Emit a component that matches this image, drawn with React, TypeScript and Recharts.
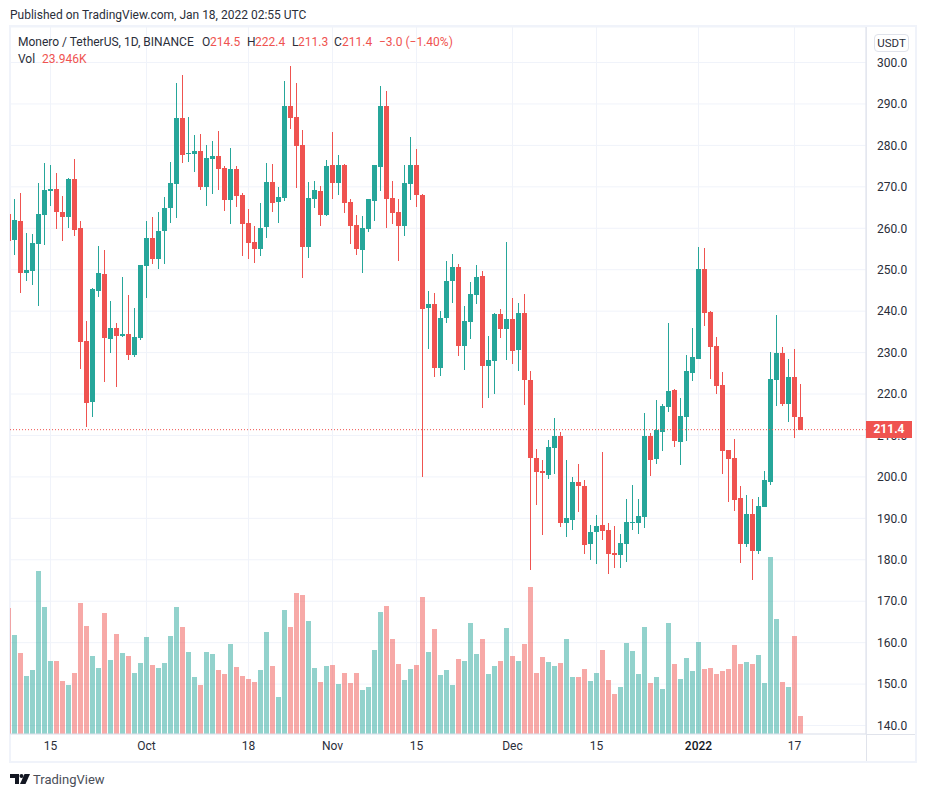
import React from "react";
import { ComposedChart, Bar, XAxis, YAxis, CartesianGrid, ReferenceLine } from "recharts";

const opens = [263.4,
  257.2,261.7,249.2,249.7,256.2,263.2,269.0,269.5,263.9,262.7,
  271.9,260.1,232.8,218.1,244.8,249.0,233.3,235.9,234.0,234.5,
  229.4,233.5,250.9,257.6,252.6,259.3,264.9,270.7,286.6,277.9,
  277.9,278.6,269.9,276.7,277.4,274.5,266.8,274.3,268.0,261.3,
  256.7,255.0,260.3,271.2,266.3,267.3,289.5,286.8,280.1,255.5,
  267.1,269.0,263.2,275.3,270.9,275.3,266.3,260.8,254.7,259.8,
  266.6,274.8,289.5,267.3,263.9,260.5,270.7,275.3,268.0,240.7,
  241.7,226.3,238.3,247.3,250.6,231.6,237.4,243.9,248.5,226.7,
  228.0,239.3,235.7,238.1,230.6,239.5,223.4,204.6,201.4,200.5,
  207.0,209.9,188.9,189.6,198.8,197.8,183.8,186.7,188.4,187.2,
  181.6,181.2,183.8,188.9,188.9,190.3,209.9,204.3,210.8,216.9,
  221.0,208.4,214.5,225.1,228.5,250.2,239.8,231.6,222.2,206.5,
  204.6,194.9,183.8,191.1,182.1,192.7,198.8,223.4,229.9,217.6,
  224.1,214.5];
const closes = [256.9,
  262.0,249.2,249.9,256.4,263.4,269.2,269.5,263.9,262.7,271.9,
  259.6,232.5,217.8,245.3,249.2,233.5,235.9,234.0,234.5,229.4,
  233.7,251.1,257.6,252.6,259.3,264.9,270.9,286.6,277.7,278.2,
  278.6,269.9,276.9,277.4,274.3,266.8,274.3,267.8,261.0,256.4,
  255.0,260.1,271.2,266.1,267.5,289.5,286.6,279.8,255.5,267.3,
  269.2,263.2,275.0,270.9,275.3,266.1,260.5,255.0,260.1,267.1,
  275.3,289.5,267.1,263.7,260.5,270.9,275.3,268.0,240.5,241.7,
  226.3,238.3,247.3,250.6,231.6,237.6,244.1,248.2,226.7,228.2,
  239.3,235.7,238.1,230.4,239.5,223.4,204.6,201.2,201.0,207.2,
  209.9,188.9,190.1,198.8,197.8,183.6,186.7,188.2,187.0,181.4,
  181.2,184.1,189.1,189.1,190.6,209.9,204.1,211.3,217.1,220.7,
  208.7,214.7,225.6,228.9,250.2,239.6,231.4,221.9,206.3,204.3,
  194.4,183.8,191.1,182.1,193.0,199.3,223.6,229.9,217.6,224.1,
  214.5,211.4];
const highs = [265.0,
  267.0,268.4,258.8,258.6,270.9,275.7,275.3,273.3,267.8,272.1,
  276.7,261.7,237.6,245.6,255.7,254.7,242.4,237.1,248.2,243.9,
  240.7,251.1,261.7,262.7,263.9,267.5,276.0,295.0,297.0,286.8,
  282.5,282.7,280.1,281.1,283.5,275.0,279.4,275.0,268.5,264.6,
  260.5,266.1,275.7,275.5,269.9,295.5,299.2,295.0,283.7,271.2,
  271.4,270.2,276.5,283.2,277.7,275.5,267.1,263.2,262.9,267.1,
  275.3,294.3,293.1,271.4,267.1,275.3,282.0,279.1,268.3,244.8,
  244.4,240.0,252.1,253.8,251.4,241.2,247.0,251.1,249.7,234.0,
  239.5,240.5,256.7,243.2,242.0,244.1,225.5,206.7,204.1,208.9,
  214.2,210.8,204.1,200.0,203.1,199.3,188.4,190.8,206.0,188.9,
  188.2,186.2,194.7,198.1,194.7,215.4,210.6,218.6,217.6,237.2,
  221.2,219.1,229.4,235.9,255.5,255.3,240.1,233.8,225.3,206.5,
  209.2,197.8,195.6,194.7,195.2,201.4,230.2,239.1,231.4,228.5,
  230.9,222.4];
const lows = [255.0,
  253.5,244.4,247.3,246.3,241.2,256.0,265.4,259.8,256.9,260.1,
  258.1,226.0,212.0,214.4,243.4,222.9,229.9,221.7,233.7,228.2,
  228.9,233.0,243.2,251.4,250.2,251.4,261.3,262.5,275.7,276.0,
  273.6,269.2,265.4,268.3,269.2,264.2,261.0,265.1,253.3,252.6,
  251.6,253.3,257.6,263.9,261.3,266.6,283.9,269.7,248.0,252.8,
  264.9,260.5,262.9,267.1,268.0,263.7,256.2,253.5,249.2,259.1,
  261.7,269.0,260.1,261.0,252.1,258.1,266.8,265.1,200.0,230.8,
  224.1,224.3,237.1,242.0,229.2,225.8,233.3,241.7,216.6,219.0,
  220.0,233.5,228.2,227.2,225.5,217.3,177.5,193.2,186.0,199.5,
  200.7,187.9,185.5,187.2,191.5,181.4,180.0,179.0,184.8,176.6,
  178.0,178.0,179.5,187.2,186.2,187.7,200.2,203.1,206.3,215.7,
  207.2,202.9,208.7,223.2,228.5,236.4,223.6,220.0,200.7,194.0,
  191.8,179.2,183.1,175.1,181.4,192.7,198.1,217.1,217.1,213.3,
  209.4,211.3];
const volumes = [167.5,
  131.6,107.6,77.1,85.1,216.6,168.8,97.0,97.0,70.4,65.1,
  81.1,174.1,143.5,103.7,87.7,160.8,98.3,132.9,107.6,103.7,
  81.1,94.4,128.9,91.7,87.7,94.4,130.2,168.8,142.2,109.0,
  75.8,65.1,109.0,106.3,85.1,79.7,119.6,89.0,77.1,73.1,
  69.1,85.1,135.6,90.4,49.2,164.8,142.2,187.4,184.7,150.2,
  87.7,69.1,90.4,91.7,66.5,81.1,67.8,81.1,58.5,62.5,
  111.6,162.1,170.1,126.3,93.0,71.8,86.4,91.7,182.1,109.0,
  139.5,78.4,85.1,65.1,99.7,97.0,147.5,106.3,126.3,79.7,
  90.4,97.0,140.9,103.7,97.0,119.6,195.4,81.1,102.3,95.7,
  90.4,94.4,126.3,75.8,75.8,86.4,70.4,81.1,111.6,71.8,
  53.2,62.5,120.9,110.3,79.7,142.2,67.8,75.8,59.8,147.5,
  93.0,73.1,101.0,83.7,122.3,86.4,87.7,79.7,83.7,86.4,
  118.3,93.0,95.7,93.0,105.0,67.8,235.2,152.8,69.1,62.5,
  130.2,23.9];

const timeTickIndex = [7, 23, 40, 54, 68, 84, 98, 115, 131];
const timeTickLabels = ["15", "Oct", "18", "Nov", "15", "Dec", "15", "2022", "17"];
const priceTicks = [140,150,160,170,180,190,200,210,220,230,240,250,260,270,280,290,300];
const lastClose = 211.4;

const UP = "#26a69a";
const DOWN = "#ef5350";
const FONT = "Roboto, sans-serif";
const TEXT = "#2a2e39";

const data = opens.map((o, i) => ({
  i,
  o,
  c: closes[i],
  h: highs[i],
  l: lows[i],
  v: volumes[i],
  range: [lows[i], highs[i]],
}));

const Candle = (props: any) => {
  const { x, y, width, height, payload } = props;
  const { o, c, h, l } = payload;
  const at = (p: number) => y + ((h - p) / (h - l)) * height;
  const color = c >= o ? UP : DOWN;
  const top = at(Math.max(o, c));
  const bot = at(Math.min(o, c));
  return (
    <g shapeRendering="crispEdges">
      <rect x={x + width / 2 - 0.5} y={y} width={1} height={height} fill={color} />
      <rect x={x} y={top} width={width} height={Math.max(1, bot - top)} fill={color} />
    </g>
  );
};

const VolumeBar = (props: any) => {
  const { x, y, width, height, payload } = props;
  const color = payload.c >= payload.o ? UP : DOWN;
  return <rect x={x} y={y} width={width} height={height} fill={color} fillOpacity={0.5} shapeRendering="crispEdges" />;
};

const TimeTick = (props: any) => {
  const { x, y, payload } = props;
  const label = timeTickLabels[timeTickIndex.indexOf(payload.value)];
  const isYear = label === "2022";
  return (
    <text
      x={x}
      y={y + 4}
      textAnchor="middle"
      fill={isYear ? "#131722" : TEXT}
      fontFamily={FONT}
      fontSize={12}
      fontWeight={isYear ? 500 : 400}
    >
      {label}
    </text>
  );
};

const abs = (left: number, top: number, extra: React.CSSProperties = {}): React.CSSProperties => ({
  position: "absolute",
  left,
  top,
  fontFamily: FONT,
  fontSize: 12,
  lineHeight: "14px",
  color: TEXT,
  whiteSpace: "nowrap",
  ...extra,
});

const X_DOMAIN: [number, number] = [0.25, 0.25 + 856 / 6];

export default function App() {
  return (
    <div style={{ position: "absolute", left: 0, top: 0, width: 926, height: 797, background: "#fff", overflow: "hidden" }}>
      <div style={{ position: "absolute", left: 9, top: 25, width: 904, height: 734, border: "2px solid #f0f3fa" }} />
      <div style={{ position: "absolute", left: 866, top: 27, width: 1, height: 734, background: "#e0e3eb" }} />
      <div style={{ position: "absolute", left: 866, top: 734, width: 49, height: 1, background: "#e0e3eb" }} />

      <ComposedChart
        width={926}
        height={797}
        data={data}
        margin={{ top: 27, right: 0, bottom: 36, left: 10 }}
        style={{ position: "absolute", left: 0, top: 0 }}
      >
        <CartesianGrid xAxisId="t" yAxisId="p" stroke="#f0f3fa" strokeWidth={1} />
        <XAxis
          xAxisId="t"
          dataKey="i"
          type="number"
          domain={X_DOMAIN}
          allowDataOverflow
          ticks={timeTickIndex}
          interval={0}
          height={27}
          tickLine={false}
          tickMargin={6}
          stroke="#e0e3eb"
          tick={<TimeTick />}
        />
        <XAxis xAxisId="u" dataKey="i" type="number" domain={X_DOMAIN} allowDataOverflow hide />
        <YAxis
          yAxisId="p"
          orientation="right"
          width={60}
          domain={[137.96, 308.57]}
          allowDataOverflow
          ticks={priceTicks}
          interval={0}
          tickLine={false}
          tickMargin={5}
          stroke="#e0e3eb"
          tick={{ fill: TEXT, fontSize: 12, fontFamily: FONT }}
          tickFormatter={(v: number) => v.toFixed(1)}
        />
        <YAxis yAxisId="v" orientation="left" hide width={0} domain={[0, 940]} allowDataOverflow />
        <Bar xAxisId="u" yAxisId="v" dataKey="v" barSize={5} shape={VolumeBar} isAnimationActive={false} />
        <Bar xAxisId="t" yAxisId="p" dataKey="range" barSize={5} shape={Candle} isAnimationActive={false} />
        <ReferenceLine xAxisId="t" yAxisId="p" y={lastClose} stroke={DOWN} strokeDasharray="1 2" />
      </ComposedChart>

      <div
        style={abs(866, 421, {
          width: 46,
          height: 17,
          lineHeight: "17px",
          background: DOWN,
          color: "#fff",
          fontWeight: 700,
          textAlign: "center",
        })}
      >
        {lastClose.toFixed(1)}
      </div>

      <div style={abs(10, 8)}>Published on TradingView.com, Jan 18, 2022 02:55 UTC</div>
      <div style={abs(18, 35)}>Monero / TetherUS, 1D, BINANCE</div>
      <div style={abs(202, 35)}>O</div>
      <div style={abs(210, 35, { color: DOWN })}>214.5</div>
      <div style={abs(247, 35)}>H</div>
      <div style={abs(255, 35, { color: DOWN })}>222.4</div>
      <div style={abs(292, 35)}>L</div>
      <div style={abs(298, 35, { color: DOWN })}>211.3</div>
      <div style={abs(334, 35)}>C</div>
      <div style={abs(342, 35, { color: DOWN })}>211.4</div>
      <div style={abs(379, 35, { color: DOWN })}>−3.0 (−1.40%)</div>
      <div style={abs(18, 52)}>Vol</div>
      <div style={abs(42, 52, { color: DOWN })}>23.946K</div>

      <div
        style={abs(874, 34, {
          width: 33,
          height: 16,
          border: "1px solid #e0e3eb",
          borderRadius: 4,
          textAlign: "center",
          lineHeight: "16px",
          fontSize: 11.5,
          background: "#fff",
        })}
      >
        USDT
      </div>

      <svg style={{ position: "absolute", left: 10, top: 773 }} width={20} height={12} viewBox="0 0 20 12">
        <path d="M0 1h9v10H5V5H0z" fill="#131722" />
        <circle cx={11.5} cy={3} r={2} fill="#131722" />
        <path d="M14.5 1H20l-4.5 10H10z" fill="#131722" />
      </svg>
      <div style={abs(33, 772, { fontSize: 13, lineHeight: "16px", color: "#4a4e58" })}>TradingView</div>
    </div>
  );
}
